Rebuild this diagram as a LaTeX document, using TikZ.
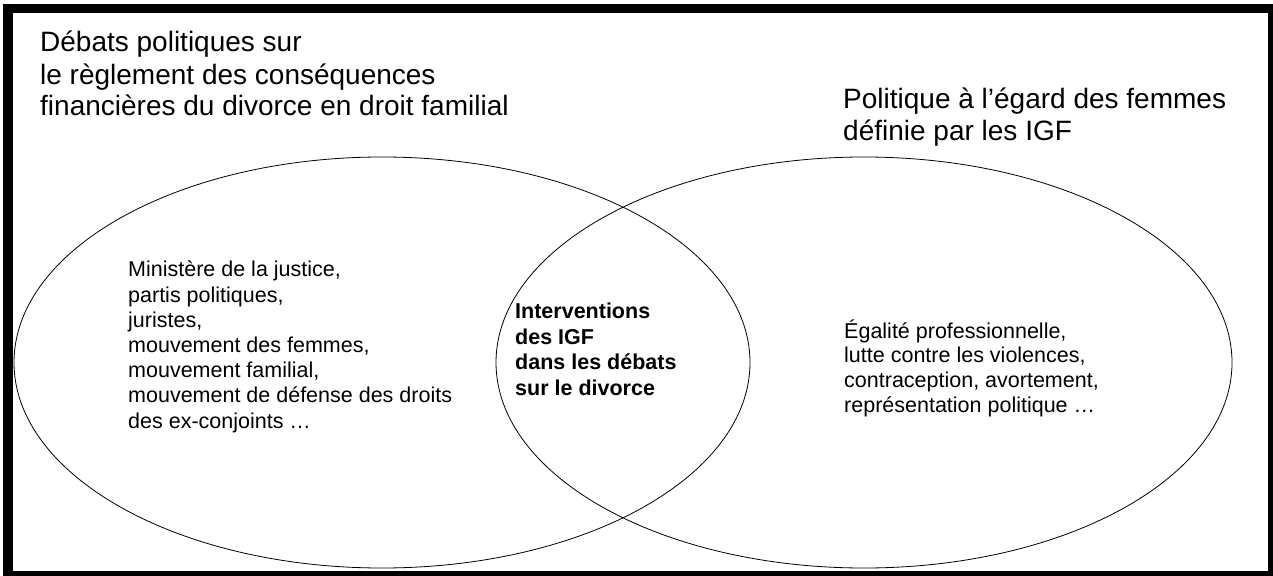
\documentclass[tikz,border=0pt]{standalone}
\usepackage{fontspec}
\setmainfont{Liberation Sans}
\usetikzlibrary{shapes.geometric}
\begin{document}
\begin{tikzpicture}[x=1pt,y=-1pt,
  setellipse/.style={ellipse, draw, line width=0.8pt, inner sep=0pt, minimum width=736pt, minimum height=411pt},
  title/.style={anchor=base west, inner sep=0pt, align=left, font=\fontsize{28}{32}\selectfont},
  body/.style={anchor=base west, inner sep=0pt, align=left, font=\fontsize{21.5}{25.2}\selectfont},
  rlist/.style={anchor=base west, inner sep=0pt, align=left, font=\fontsize{21.5}{24.6}\selectfont},
  core/.style={anchor=base west, inner sep=0pt, align=left, font=\fontsize{21.5}{25.5}\selectfont\bfseries}]
\useasboundingbox (0,0) rectangle (1273,575);
\clip (0,0) rectangle (1273,575);
\draw[line width=9.5pt] (8,8.5) rectangle (1273,576);
\node[setellipse] (left) at (382,362.5) {};
\node[setellipse] (right) at (864,362.5) {};
% base west = baseline of the last line
\node[title] (ltitle) at (40,116) {Débats politiques sur\\le règlement des conséquences\\financières du divorce en droit familial};
\node[title] (rtitle) at (843,140) {Politique à l’égard des femmes\\définie par les IGF};
\node[body] (lbody) at (128,428) {Ministère de la justice,\\partis politiques,\\juristes,\\mouvement des femmes,\\mouvement familial,\\mouvement de défense des droits\\des ex-conjoints …};
\node[core] (cbody) at (515,395) {Interventions\\des IGF\\dans les débats\\sur le divorce};
\node[rlist] (rbody) at (844,412) {Égalité professionnelle,\\lutte contre les violences,\\contraception, avortement,\\représentation politique …};
\end{tikzpicture}
\end{document}
